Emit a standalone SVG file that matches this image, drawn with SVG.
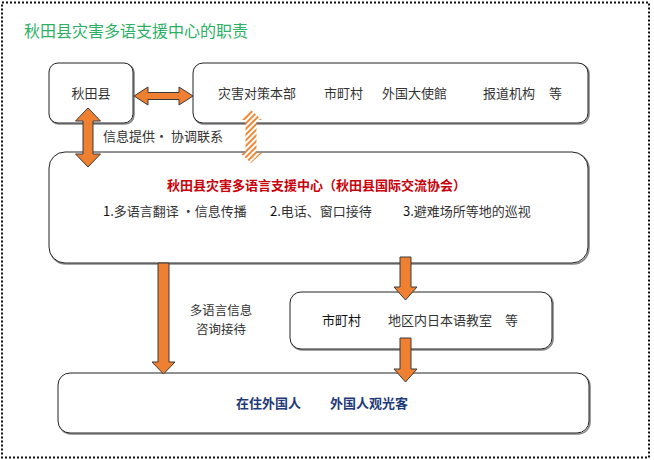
<svg xmlns="http://www.w3.org/2000/svg" width="654" height="460" viewBox="0 0 654 460">
<defs>
<style>
text{font-family:"Noto Sans CJK SC","Noto Sans",sans-serif;font-size:13px;fill:#333}
.box{fill:#fff;stroke:#222;stroke-width:1}
.sh{fill:none;stroke:#888;stroke-width:1.6}
.arr{fill:#ef7f31;stroke:#3a3a3a;stroke-width:1}
.red{fill:#c8000a;font-weight:bold}
.navy{fill:#1f3a78;font-weight:bold}
.blk{fill:#111}
.lbl{font-size:12.5px}
</style>
<pattern id="hatch" patternUnits="userSpaceOnUse" width="4" height="4" patternTransform="rotate(45)">
<rect width="4" height="4" fill="#fff"/>
<rect width="2" height="4" fill="#f08838"/>
</pattern>
</defs>
<rect x="2" y="2.5" width="647" height="455" fill="#fff" stroke="#111" stroke-width="2" stroke-dasharray="2 2"/>
<text x="24" y="37" style="font-size:16px;fill:#2bb066">秋田县灾害多语支援中心的职责</text>

<g id="akita">
<rect class="sh" x="50" y="64" width="84" height="60" rx="9"/>
<rect class="box" x="49" y="63" width="84" height="60" rx="9"/>
<text x="91" y="98" text-anchor="middle">秋田县</text>
</g>
<g id="partners">
<rect class="sh" x="194" y="64" width="395" height="60" rx="10"/>
<rect class="box" x="193" y="63" width="395" height="60" rx="10"/>
<text x="218" y="98">灾害对策本部</text>
<text x="324" y="98">市町村</text>
<text x="382" y="98">外国大使館</text>
<text x="483" y="98">报道机构</text>
<text x="549" y="98">等</text>
</g>
<g id="center">
<rect class="sh" x="50" y="153" width="539" height="111" rx="16"/>
<rect class="box" x="49" y="152" width="539" height="111" rx="16"/>
<text x="167" y="190" class="red">秋田县灾害多语言支援中心（秋田县国际交流协会）</text>
<text x="103" y="216"><tspan class="blk">1.</tspan>多语言翻译 ·信息传播</text>
<text x="270" y="216"><tspan class="blk">2.</tspan>电话、窗口接待</text>
<text x="403" y="216"><tspan class="blk">3.</tspan>避难场所等地的巡视</text>
</g>
<g id="municipal">
<rect class="sh" x="291" y="293" width="262" height="57" rx="11"/>
<rect class="box" x="290" y="292" width="262" height="57" rx="11"/>
<text x="322" y="325" class="blk">市町村</text>
<text x="388" y="325">地区内日本语教室　等</text>
</g>
<g id="foreigners">
<rect class="sh" x="59" y="374" width="531" height="60" rx="12"/>
<rect class="box" x="58" y="373" width="531" height="60" rx="12"/>
<text x="236" y="408" class="navy">在住外国人</text>
<text x="330" y="408" class="navy">外国人观光客</text>
</g>

<g id="connectors">
<path class="arr" d="M134,96 L148,87 L148,92.5 L179,92.5 L179,87 L193,96 L179,105 L179,99.5 L148,99.5 L148,105 Z"/>
<path class="arr" d="M88,108 L100.5,121 L93,121 L93,154 L100.5,154 L88,167 L75.5,154 L83,154 L83,121 L75.5,121 Z"/>
<path fill="url(#hatch)" d="M251,110 L262,120 L256.5,120 L256.5,153 L262,153 L251,163 L240,153 L245.5,153 L245.5,120 L240,120 Z"/>
<path class="arr" d="M158,263 L169,263 L169,362 L175,362 L163.5,374 L152,362 L158,362 Z"/>
<path class="arr" d="M400,257 L411,257 L411,287 L417,287 L405.5,300 L394,287 L400,287 Z"/>
<path class="arr" d="M400,338 L411,338 L411,369 L417,369 L405.5,382 L394,369 L400,369 Z"/>
<text x="103" y="141">信息提供· 协调联系</text>
<text x="221" y="315" text-anchor="middle" class="lbl">多语言信息</text>
<text x="221" y="334" text-anchor="middle" class="lbl">咨询接待</text>
</g>
</svg>
